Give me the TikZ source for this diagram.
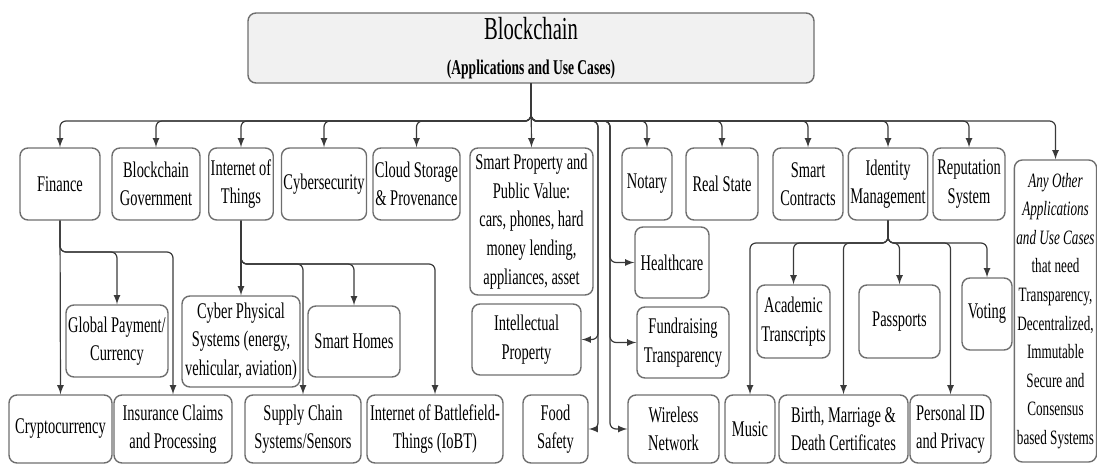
\documentclass[tikz,border=0pt]{standalone}
\usepackage{fontspec}
\setmainfont{Liberation Serif}[FakeStretch=0.645]
\usetikzlibrary{arrows}
\definecolor{boxline}{HTML}{6E6E6E}
\definecolor{conline}{HTML}{3A3A3A}
\definecolor{rootfill}{HTML}{F1F1F1}

\begin{document}
\begin{tikzpicture}[
  x=0.5pt, y=-0.5pt,
  font=\fontsize{11.2}{14.3}\selectfont,
  app/.style 2 args={draw=boxline,line width=0.7pt,rounded corners=4pt,align=center,inner sep=1pt,
    minimum width=#1*0.5pt,minimum height=#2*0.5pt},
  arr/.style={-latex,draw=conline,line width=0.6pt,rounded corners=3pt}
    ]
    \useasboundingbox (0,0) rectangle (1097,464);
    % root
    \node[app={566}{70},fill=rootfill,font=\fontsize{10.5}{17.5}\selectfont] (root) at (531,48)
      {{\fontsize{16}{17.5}\selectfont Blockchain}\\\textbf{(Applications and Use Cases)}};
    % first row
    \node[app={80}{72}] (fin) at (60,184) {Finance};
    \node[app={88}{72}] (gov) at (156,184) {Blockchain\\Government};
    \node[app={62}{72}] (iot) at (241,184) {Internet of\\Things};
    \node[app={84}{72}] (cyber) at (324,184) {Cybersecurity};
    \node[app={87}{72}] (cloud) at (416.5,184) {Cloud Storage\\\& Provenance};
    \node[app={123}{147}] (sp) at (531.5,221.5) {Smart Property and\\Public Value:\\cars, phones, hard\\money lending,\\appliances, asset};
    \node[app={50}{72}] (notary) at (647,184) {Notary};
    \node[app={72}{72}] (rstate) at (722,184) {Real State};
    \node[app={70}{72}] (smartc) at (808,184) {Smart\\Contracts};
    \node[app={78}{72}] (idm) at (888,184) {Identity\\Management};
    \node[app={72}{72}] (rep) at (969,184) {Reputation\\System};
    \node[app={81}{302},font=\fontsize{10.2}{14.3}\selectfont] (other) at (1055.5,311)
      {\textit{Any Other}\\\textit{Applications}\\\textit{and Use Cases}\\that need\\Transparency,\\Decentralized,\\Immutable\\Secure and\\Consensus\\based Systems};
    % second row
    \node[app={102}{72}] (gp) at (117,341) {Global Payment/\\Currency};
    \node[app={118}{91}] (cps) at (241,341.5) {Cyber Physical\\Systems (energy,\\vehicular, aviation)};
    \node[app={92}{71}] (sh) at (354,341.5) {Smart Homes};
    \node[app={109}{71}] (ip) at (526.5,339.5) {Intellectual\\Property};
    \node[app={74}{71}] (hc) at (672,262.5) {Healthcare};
    \node[app={92}{71}] (fr) at (683,342.5) {Fundraising\\Transparency};
    \node[app={73}{73}] (acad) at (793.5,321.5) {Academic\\Transcripts};
    \node[app={81}{73}] (pass) at (899.5,321.5) {Passports};
    \node[app={50}{72}] (vote) at (987,314) {Voting};
    % bottom row
    \node[app={103}{68}] (crypto) at (60.5,429) {Cryptocurrency};
    \node[app={118}{68}] (ins) at (173,429) {Insurance Claims\\and Processing};
    \node[app={116}{68}] (sc) at (303,429) {Supply Chain\\Systems/Sensors};
    \node[app={136}{68}] (iobt) at (435,429) {Internet of Battlefield-\\Things (IoBT)};
    \node[app={65}{68}] (food) at (555.5,429) {Food\\Safety};
    \node[app={91}{68}] (wn) at (673.5,429) {Wireless\\Network};
    \node[app={50}{68}] (music) at (750,429) {Music};
    \node[app={129}{68}] (bmd) at (843.5,429) {Birth, Marriage \&\\Death Certificates};
    \node[app={81}{68}] (pid) at (950.5,429) {Personal ID\\and Privacy};
    % bars and trunks
    \coordinate (spine) at (0,121);
    \coordinate (ltr) at (598,0);
    \coordinate (rtr) at (610,0);
    \coordinate (fbar) at (0,252);
    \coordinate (ibar) at (0,264);
    \coordinate (mbar) at (0,243);
    \foreach \n in {fin,gov,iot,cyber,cloud,notary,rstate,smartc,idm,rep,other}
      \draw[arr] (root.south) |- (\n |- spine) -- (\n.north);
    \draw[arr] (root.south) -- (sp.north);
    \foreach \n in {ip,food}
      \draw[arr] (root.south) |- (ltr |- spine) -- (ltr |- \n.east) -- (\n.east);
    \foreach \n in {hc,fr,wn}
      \draw[arr] (root.south) |- (rtr |- spine) -- (rtr |- \n.west) -- (\n.west);
    \draw[arr] (fin.south) -- (crypto.north);
    \foreach \n in {gp,ins}
      \draw[arr] (fin.south) |- (\n |- fbar) -- (\n.north);
    \draw[arr] (iot.south) -- (cps.north);
    \foreach \n in {sc,sh,iobt}
      \draw[arr] (iot.south) |- (\n |- ibar) -- (\n.north);
    \foreach \n in {music,acad,bmd,pass,pid,vote}
      \draw[arr] (idm.south) |- (\n |- mbar) -- (\n.north);
\end{tikzpicture}
\end{document}
